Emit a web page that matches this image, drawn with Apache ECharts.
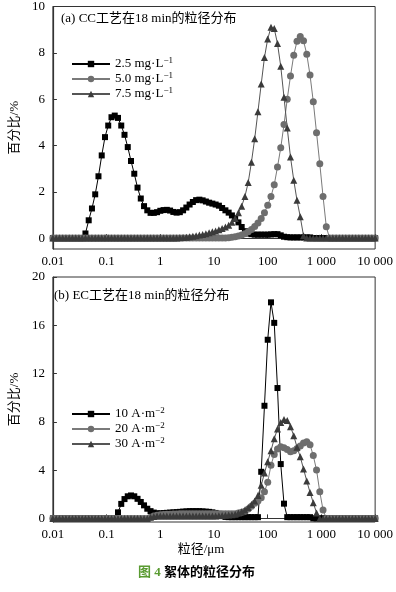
<!DOCTYPE html>
<html>
<head>
<meta charset="utf-8">
<script src="https://cdn.jsdelivr.net/npm/echarts@6/dist/echarts.min.js"></script>
<style>
  html, body { margin: 0; padding: 0; background: #fff; }
  #chart { width: 396px; height: 592px; }
</style>
</head>
<body>
<div id="chart"></div>
<script>
  // particle size classes (µm), shared by both panels
  const sizes = [
    0.01, 0.0115, 0.01322, 0.0152, 0.01748, 0.0201, 0.0231, 0.02656, 0.03054, 0.03511,
    0.04037, 0.04642, 0.05337, 0.06136, 0.07055, 0.08111, 0.09326, 0.1072, 0.1233, 0.1417,
    0.163, 0.1874, 0.2154, 0.2477, 0.2848, 0.3275, 0.3765, 0.4329, 0.4978, 0.5722,
    0.6579, 0.7565, 0.8697, 1, 1.15, 1.322, 1.52, 1.748, 2.01, 2.31,
    2.656, 3.054, 3.511, 4.037, 4.642, 5.337, 6.136, 7.055, 8.111, 9.326,
    10.72, 12.33, 14.17, 16.3, 18.74, 21.54, 24.77, 28.48, 32.75, 37.65,
    43.29, 49.78, 57.22, 65.79, 75.65, 86.97, 100, 115, 132.2, 152,
    174.8, 201, 231, 265.6, 305.4, 351.1, 403.7, 464.2, 533.7, 613.6,
    705.5, 811.1, 932.6, 1072, 1233, 1417, 1630, 1874, 2154, 2477,
    2848, 3275, 3765, 4329, 4978, 5722, 6579, 7565, 8697, 10000
  ];

  const xTicks = [0.01, 0.1, 1, 10, 100, 1000, 10000];
  const yTicksA = [0, 2, 4, 6, 8, 10];
  const yTicksB = [0, 4, 8, 12, 16, 20];

  const namesA = ['2.5 mg·L-1', '5.0 mg·L-1', '7.5 mg·L-1'];
  const namesB = ['10 A·m-2', '20 A·m-2', '30 A·m-2'];

  // (a) CC, percentage per size class
  const cc25 = [
    0, 0, 0, 0, 0, 0, 0, 0, 0, 0,
    0.2, 0.77, 1.28, 1.89, 2.67, 3.57, 4.36, 4.86, 5.22, 5.29,
    5.19, 4.86, 4.46, 3.93, 3.33, 2.78, 2.18, 1.71, 1.38, 1.2,
    1.09, 1.09, 1.12, 1.18, 1.21, 1.22, 1.19, 1.13, 1.1, 1.12,
    1.2, 1.32, 1.45, 1.56, 1.64, 1.66, 1.63, 1.58, 1.53, 1.49,
    1.45, 1.4, 1.3, 1.2, 1.1, 0.98, 0.85, 0.68, 0.48, 0.3,
    0.2, 0.17, 0.15, 0.15, 0.15, 0.15, 0.15, 0.16, 0.17, 0.17,
    0.12, 0.06, 0.04, 0.03, 0.03, 0.03, 0.03, 0.03, 0.03, 0.03,
    0, 0, 0, 0, 0, 0, 0, 0, 0, 0,
    0, 0, 0, 0, 0, 0, 0, 0, 0, 0
  ];
  const cc50 = [
    0, 0, 0, 0, 0, 0, 0, 0, 0, 0,
    0, 0, 0, 0, 0, 0, 0, 0, 0, 0,
    0, 0, 0, 0, 0, 0, 0, 0, 0, 0,
    0, 0, 0, 0, 0, 0, 0, 0, 0, 0,
    0, 0, 0, 0, 0, 0, 0, 0, 0, 0,
    0, 0, 0, 0.01, 0.02, 0.04, 0.06, 0.09, 0.13, 0.19,
    0.27, 0.37, 0.5, 0.65, 0.85, 1.1, 1.42, 1.8, 2.3, 3.07,
    3.9, 4.9, 6.0, 7.0, 7.9, 8.5, 8.7, 8.52, 7.94, 7.04,
    5.89, 4.55, 3.21, 1.8, 0.49, 0, 0, 0, 0, 0,
    0, 0, 0, 0, 0, 0, 0, 0, 0, 0
  ];
  const cc75 = [
    0, 0, 0, 0, 0, 0, 0, 0, 0, 0,
    0, 0, 0, 0, 0, 0, 0, 0, 0, 0,
    0, 0, 0, 0, 0, 0, 0, 0, 0, 0,
    0, 0, 0, 0, 0, 0, 0, 0, 0.01, 0.02,
    0.03, 0.04, 0.06, 0.08, 0.1, 0.13, 0.16, 0.19, 0.23, 0.27,
    0.31, 0.36, 0.42, 0.48, 0.56, 0.68, 0.85, 1.1, 1.38, 1.8,
    2.4, 3.28, 4.29, 5.46, 6.65, 7.8, 8.6, 9.1, 9.05, 8.4,
    7.42, 6.08, 4.75, 3.5, 2.5, 1.63, 0.92, 0.1, 0, 0,
    0, 0, 0, 0, 0, 0, 0, 0, 0, 0,
    0, 0, 0, 0, 0, 0, 0, 0, 0, 0
  ];

  // (b) EC
  const ec10 = [
    0, 0, 0, 0, 0, 0, 0, 0, 0, 0,
    0, 0, 0, 0, 0, 0, 0, 0, 0, 0,
    0.5, 1.2, 1.6, 1.83, 1.9, 1.83, 1.62, 1.36, 1.08, 0.8,
    0.6, 0.48, 0.42, 0.42, 0.44, 0.46, 0.48, 0.5, 0.52, 0.54,
    0.56, 0.58, 0.6, 0.6, 0.6, 0.6, 0.58, 0.56, 0.54, 0.5,
    0.45, 0.38, 0.25, 0.12, 0.1, 0.1, 0.1, 0.1, 0.1, 0.1,
    0.1, 0.1, 0.1, 0.1, 3.86, 9.33, 14.8, 17.9, 16.2, 10.8,
    4.5, 1.22, 0.1, 0.1, 0.1, 0.1, 0.1, 0.1, 0.1, 0.1,
    0, 0, 0, 0, 0, 0, 0, 0, 0, 0,
    0, 0, 0, 0, 0, 0, 0, 0, 0, 0
  ];
  const ec20 = [
    0, 0, 0, 0, 0, 0, 0, 0, 0, 0,
    0, 0, 0, 0, 0, 0, 0, 0, 0, 0,
    0, 0, 0, 0, 0, 0, 0, 0, 0, 0,
    0.1, 0.2, 0.25, 0.3, 0.32, 0.34, 0.35, 0.36, 0.37, 0.38,
    0.38, 0.38, 0.38, 0.38, 0.38, 0.38, 0.38, 0.38, 0.38, 0.38,
    0.38, 0.38, 0.38, 0.38, 0.38, 0.38, 0.38, 0.45, 0.5, 0.6,
    0.78, 1.0, 1.25, 1.45, 1.7, 2.2, 3.0, 4.4, 5.3, 5.75,
    5.94, 5.85, 5.7, 5.53, 5.6, 5.8, 6.0, 6.25, 6.35, 6.1,
    5.2, 4.0, 2.2, 0.7, 0, 0, 0, 0, 0, 0,
    0, 0, 0, 0, 0, 0, 0, 0, 0, 0
  ];
  const ec30 = [
    0, 0, 0, 0, 0, 0, 0, 0, 0, 0,
    0, 0, 0, 0, 0, 0, 0, 0, 0, 0,
    0, 0, 0, 0, 0, 0, 0, 0, 0, 0,
    0.1, 0.15, 0.2, 0.2, 0.2, 0.2, 0.2, 0.2, 0.2, 0.2,
    0.2, 0.2, 0.2, 0.2, 0.2, 0.2, 0.2, 0.2, 0.2, 0.2,
    0.2, 0.22, 0.24, 0.26, 0.28, 0.3, 0.35, 0.45, 0.55, 0.7,
    0.9, 1.15, 1.45, 1.9, 2.75, 3.75, 4.7, 5.6, 6.6, 7.4,
    7.95, 8.2, 8.1, 7.6, 6.85, 5.9, 5.1, 4.1, 3.1, 2.15,
    1.3, 0.45, 0, 0, 0, 0, 0, 0, 0, 0,
    0, 0, 0, 0, 0, 0, 0, 0, 0, 0
  ];

  const SERIF = "'Liberation Serif', 'Times New Roman', 'Noto Sans CJK SC', serif";
  const AXIS_COLOR = '#333';

  const chart = echarts.init(document.getElementById('chart'));

  const fmtX = (v) => {
    if (v >= 1000) return String(Math.round(v)).replace(/\B(?=(\d{3})+(?!\d))/g, ' ');
    return String(+(+v).toPrecision(3));
  };

  const makeX = (gridIndex) => ({
    type: 'log',
    gridIndex: gridIndex,
    min: 0.01,
    max: 10000,
    logBase: 10,
    axisLine: { lineStyle: { color: AXIS_COLOR, width: 1.2 } },
    axisTick: { inside: true, length: 4, lineStyle: { color: AXIS_COLOR }, customValues: xTicks },
    axisLabel: {
      customValues: xTicks,
      formatter: fmtX,
      color: '#000',
      fontFamily: SERIF,
      fontSize: 13,
      margin: 6,
    },
    splitLine: { show: false },
    minorTick: { show: false },
  });

  const makeY = (gridIndex, min, max, ticks) => ({
    type: 'value',
    gridIndex: gridIndex,
    min: min,
    max: max,
    name: '百分比/%',
    nameLocation: 'middle',
    nameGap: 27,
    nameTextStyle: { fontFamily: SERIF, fontSize: 13, color: '#000' },
    axisLine: { show: true, lineStyle: { color: AXIS_COLOR, width: 1.2 } },
    axisTick: { show: true, inside: true, length: 4, lineStyle: { color: AXIS_COLOR }, customValues: ticks },
    axisLabel: {
      customValues: ticks,
      color: '#000',
      fontFamily: SERIF,
      fontSize: 13,
      margin: 8,
    },
    splitLine: { show: false },
  });

  const styles = [
    { symbol: 'rect', symbolSize: 6, color: '#000', line: '#000' },
    { symbol: 'circle', symbolSize: 7, color: '#6e6e6e', line: '#7a7a7a' },
    { symbol: 'triangle', symbolSize: 7, color: '#3b3b3b', line: '#555' },
  ];

  const makeSeries = (name, vals, st, axisIndex) => ({
    name: name,
    type: 'line',
    xAxisIndex: axisIndex,
    yAxisIndex: axisIndex,
    symbol: st.symbol,
    symbolSize: st.symbolSize,
    showAllSymbol: true,
    itemStyle: { color: st.color },
    lineStyle: { color: st.line, width: 1 },
    data: sizes.map((s, k) => [s, vals[k]]),
  });

  const legendFmt = (n) => n.replace(/-(\d)$/, '{sup|−$1}');
  const makeLegend = (names, top) => ({
    data: names,
    orient: 'vertical',
    left: 66,
    top: top,
    itemWidth: 38,
    itemHeight: 8,
    itemGap: 0,
    formatter: legendFmt,
    textStyle: {
      fontFamily: SERIF,
      fontSize: 13,
      lineHeight: 14,
      color: '#000',
      rich: { sup: { fontFamily: SERIF, fontSize: 9, padding: [0, 0, 7, 0], color: '#000' } },
    },
  });

  const option = {
    animation: false,
    backgroundColor: '#fff',
    grid: [
      { left: 45, top: 5, width: 332, height: 244, show: true, borderColor: AXIS_COLOR, borderWidth: 1 },
      { left: 45, top: 277, width: 332, height: 245, show: true, borderColor: AXIS_COLOR, borderWidth: 1 },
    ],
    xAxis: [makeX(0), makeX(1)],
    yAxis: [makeY(0, -0.47, 10, yTicksA), makeY(1, -0.3, 20, yTicksB)],
    legend: [makeLegend(namesA, 51), makeLegend(namesB, 401)],
    graphic: [
      {
        type: 'text', left: 61, top: 12,
        style: { text: '(a) CC工艺在18 min的粒径分布', font: '13px ' + SERIF, fill: '#000' },
      },
      {
        type: 'text', left: 54, top: 289,
        style: { text: '(b) EC工艺在18 min的粒径分布', font: '13px ' + SERIF, fill: '#000' },
      },
      {
        type: 'text', x: 201, y: 550,
        style: { text: '粒径/μm', font: '13px ' + SERIF, fill: '#000', align: 'center', verticalAlign: 'middle' },
      },
      {
        type: 'text', x: 138, y: 573,
        style: {
          text: '{g|图 4} {b|絮体的粒径分布}',
          verticalAlign: 'middle',
          rich: {
            g: { fill: '#5a9b32', fontWeight: 'bold', fontSize: 13, fontFamily: SERIF },
            b: { fill: '#000', fontWeight: 'bold', fontSize: 13, fontFamily: SERIF },
          },
        },
      },
    ],
    series: [
      makeSeries(namesA[0], cc25, styles[0], 0),
      makeSeries(namesA[1], cc50, styles[1], 0),
      makeSeries(namesA[2], cc75, styles[2], 0),
      makeSeries(namesB[0], ec10, styles[0], 1),
      makeSeries(namesB[1], ec20, styles[1], 1),
      makeSeries(namesB[2], ec30, styles[2], 1),
    ],
  };

  chart.setOption(option);
</script>
</body>
</html>
